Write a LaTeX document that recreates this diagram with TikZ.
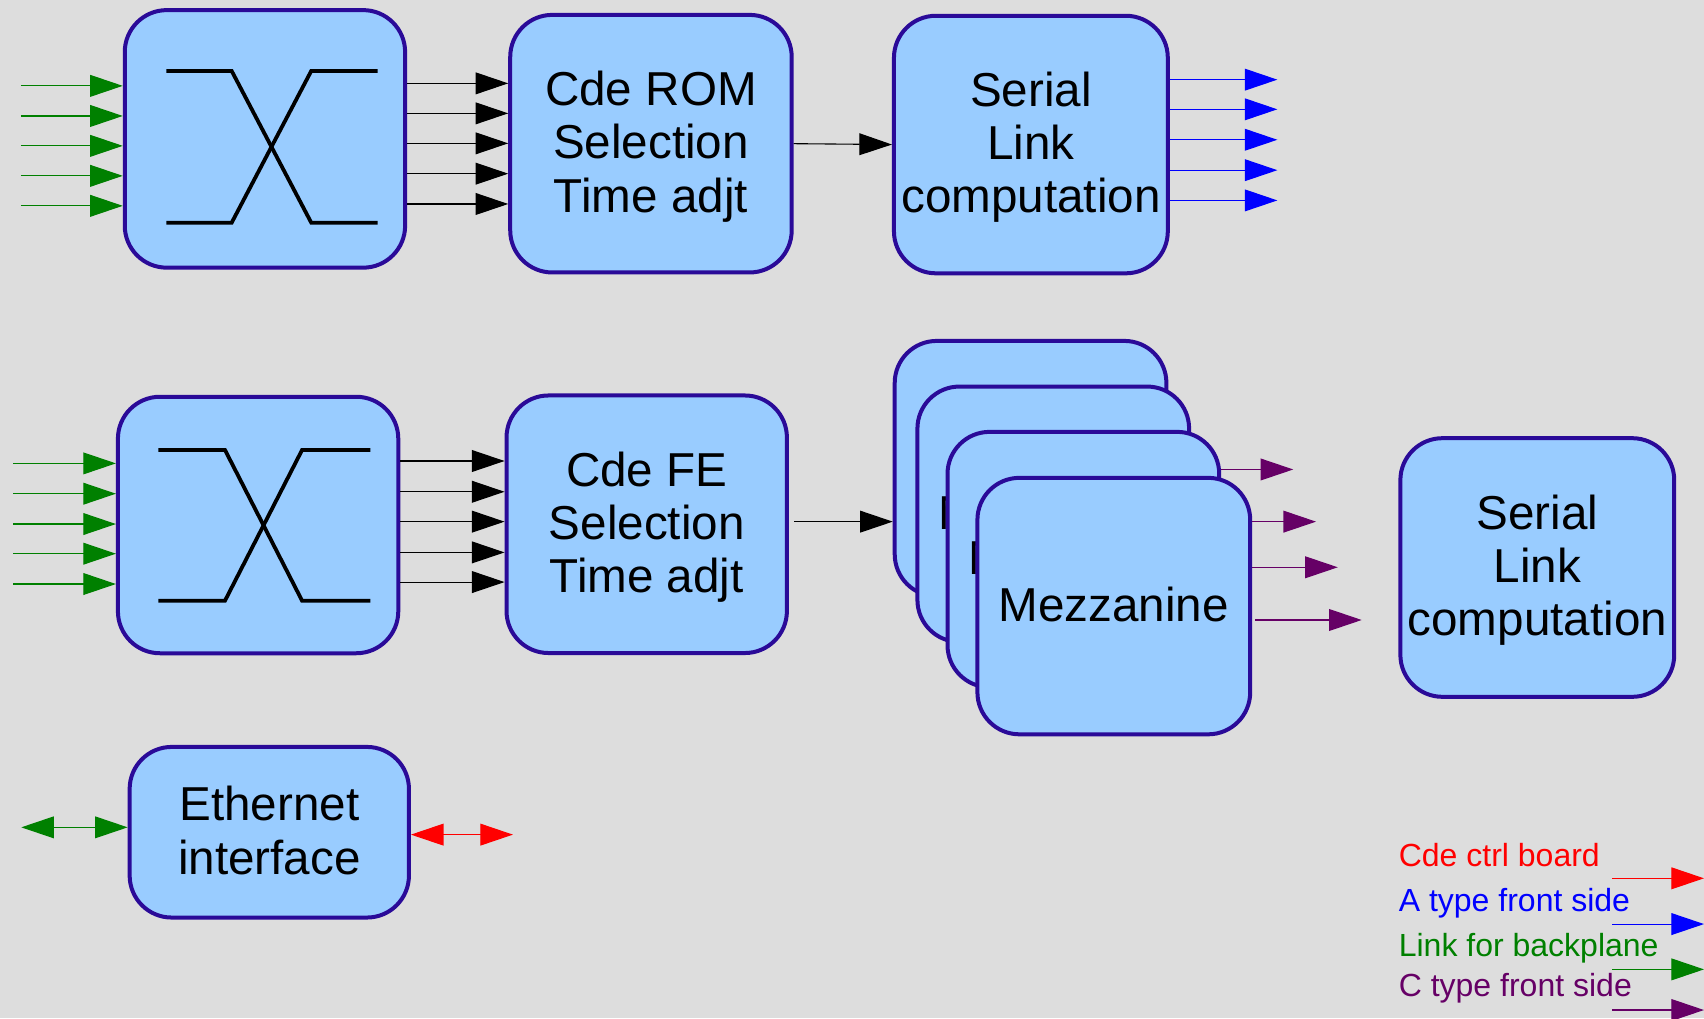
\documentclass[tikz,border=0pt]{standalone}
\usepackage{fontspec}
\setmainfont{Liberation Sans}
\usetikzlibrary{arrows.meta}

\definecolor{pagebg}{HTML}{DDDDDD}
\definecolor{boxfill}{HTML}{99CCFF}
\definecolor{boxline}{HTML}{2A0A98}
\definecolor{linkgreen}{HTML}{008000}
\definecolor{atype}{HTML}{0000FF}
\definecolor{ctype}{HTML}{660066}
\definecolor{ctrl}{HTML}{FF0000}

\newlength\ovpx
\setlength\ovpx{0.54335pt}

\tikzset{sigtip/.tip={Triangle[length=16.3pt, width=10.9pt]}}

\begin{document}
\begin{tikzpicture}[x=0.54335pt, y=-0.54335pt,
  blk/.style={draw=boxline, fill=boxfill, line width=2pt, rounded corners=21pt,
    align=center, inner sep=0pt, text depth=2pt, font=\fontsize{23.8}{26.6}\selectfont},
  size/.style 2 args={minimum width=#1\ovpx, minimum height=#2\ovpx},
  sig/.style={line width=0.55pt, -sigtip},
  sigb/.style={line width=0.55pt, sigtip-sigtip},
  xbar/.style={line width=1.9pt, black},
  legend/.style={anchor=base west, inner sep=0pt, font=\fontsize{16}{19}\selectfont}]

% page
\path[use as bounding box, fill=pagebg] (0,0) rectangle (1568,937);

% first chain: crossbar -> ROM selection -> serial link
\node[blk, size={258}{237}] (xa) at (243.8,127.8) {};
\node[blk, size={259}{237}] (rom) at (599,132.2) {Cde ROM\\Selection\\Time adjt};
\node[blk, size={252}{237}] (ser1) at (948.6,133) {Serial\\Link\\computation};

\draw[xbar] (153,65.3) -- (213.2,65.3) -- (286.4,204.9) -- (347.5,204.9);
\draw[xbar] (153,204.9) -- (213.2,204.9) -- (286.4,65.3) -- (347.5,65.3);

\foreach \y [count=\i] in {79,106.7,134.2,161.8,189.4} {
  \coordinate (ga\i) at (19.2,\y);
  \draw[sig, linkgreen] (ga\i) -- (ga\i -| xa.west);
}
\foreach \y [count=\i] in {76.7,104.3,131.9,159.8,187.7} {
  \coordinate (ka\i) at (380,\y);
  \draw[sig, black] (ka\i -| xa.east) -- (ka\i -| rom.west);
}
\draw[sig, black] (rom.east) -- (ser1.west);
\foreach \y [count=\i] in {73.3,100.6,128.6,156.6,184.4} {
  \coordinate (ba\i) at (1175.4,\y);
  \draw[sig, atype] (ba\i -| ser1.east) -- (ba\i);
}

% second chain: crossbar -> FE selection -> mezzanines -> serial link
\node[blk, size={258}{236}] (xb) at (237.5,483.1) {};
\node[blk, size={258}{237}] (fe) at (595.1,482.4) {Cde FE\\Selection\\Time adjt};

\draw[xbar] (145.8,414) -- (207,414) -- (278,552.8) -- (340.7,552.8);
\draw[xbar] (145.8,552.8) -- (207,552.8) -- (278,414) -- (340.7,414);

\foreach \y [count=\i] in {426.4,454.3,482.2,509.5,537.4} {
  \coordinate (gb\i) at (12,\y);
  \draw[sig, linkgreen] (gb\i) -- (gb\i -| xb.west);
}
\foreach \y [count=\i] in {424.2,452.5,480,508.3,535.6} {
  \coordinate (kb\i) at (380,\y);
  \draw[sig, black] (kb\i -| xb.east) -- (kb\i -| fe.west);
}

\node[blk, size={250}{235}] (m1) at (948.3,431.2) {Mezzanine};
\node[blk, size={250}{235}] (m2) at (969.2,473.2) {Mezzanine};
\node[blk, size={250}{235}] (m3) at (996.9,514.9) {Mezzanine};
\node[blk, size={251}{236}] (m4) at (1024.9,557.7) {Mezzanine};

\coordinate (fm) at (731,480);
\draw[sig, black] (fm) -- (fm -| m1.west);

\coordinate (p1) at (1190,432);
\coordinate (p2) at (1211,480);
\coordinate (p3) at (1231,522);
\coordinate (p4) at (1253,570.5);
\draw[sig, ctype] (p1 -| m3.east) -- (p1);
\draw[sig, ctype] (p2 -| m4.east) -- (p2);
\draw[sig, ctype] (p3 -| m4.east) -- (p3);
\draw[sig, ctype] ([xshift=3\ovpx]p4 -| m4.east) -- (p4);

\node[blk, size={252}{238}] (ser2) at (1414.6,522.2) {Serial\\Link\\computation};

% ethernet interface
\node[blk, size={257}{157}] (eth) at (247.8,765.8) {Ethernet\\interface};
\coordinate (el) at (19.6,761.3);
\draw[sigb, linkgreen] (el) -- (el -| eth.west);
\coordinate (er) at (472,768);
\draw[sigb, ctrl] (er -| eth.east) -- (er);

% legend
\node[legend, text=ctrl] (l1) at (1286.8,797.5) {Cde ctrl board};
\node[legend, text=atype] (l2) at (1286.8,838.5) {A type front side};
\node[legend, text=linkgreen] (l3) at (1286.8,880.4) {Link for backplane};
\node[legend, text=ctype] (l4) at (1286.8,916.5) {C type front side};
\foreach \y/\c [count=\i] in {808.2/ctrl,850.3/atype,892/linkgreen,929.4/ctype} {
  \coordinate (ls\i) at (1483.7,\y);
  \coordinate (le\i) at (1568,\y);
  \draw[sig, \c] (ls\i) -- (le\i);
}
\end{tikzpicture}
\end{document}
